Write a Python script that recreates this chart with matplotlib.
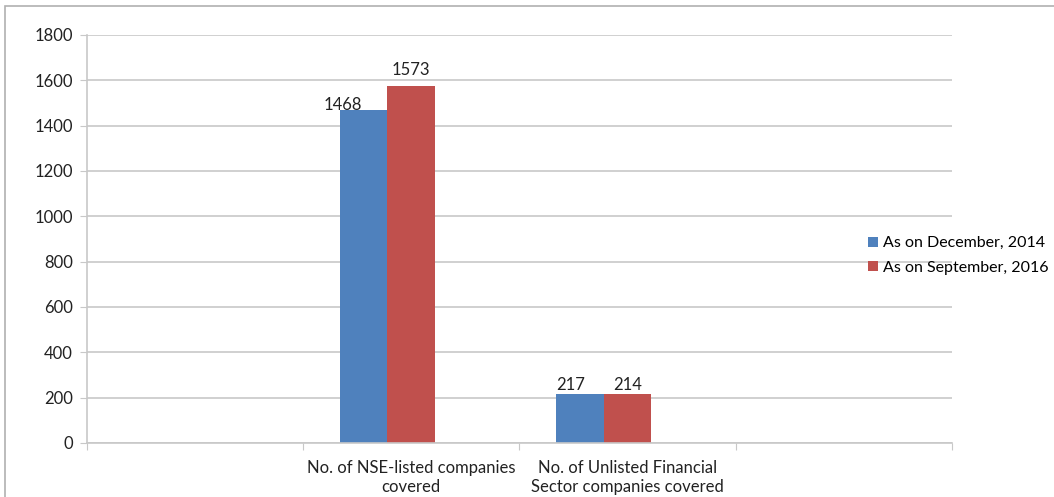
import numpy as np
import matplotlib.pyplot as plt
from matplotlib.patches import Rectangle

plt.rcParams['font.family'] = ['Lato', 'DejaVu Sans']

categories = ['', 'No. of NSE-listed companies\ncovered',
              'No. of Unlisted Financial\nSector companies covered', '']
dec_2014 = [np.nan, 1468, 217, np.nan]
sep_2016 = [np.nan, 1573, 214, np.nan]
series_names = ['As on December, 2014', 'As on September, 2016']

blue = '#4f81bd'
red = '#c0504d'
grid_c = '#c8c8c8'
txt_c = '#222222'
fs = 12

fig = plt.figure(figsize=(10.54, 4.97), dpi=100)
ax = fig.add_axes([0.0825, 0.1087, 0.8205, 0.8209])

x = np.arange(len(categories))
w = 0.22
b1 = ax.bar(x - w, dec_2014, w, color=blue, label=series_names[0])
b2 = ax.bar(x, sep_2016, w, color=red, label=series_names[1])

# data labels, nudged the way excel placed them
for xi, v in zip(x, dec_2014):
    if np.isnan(v):
        continue
    dx, dy = (-15, 3.6) if v > 1000 else (-6.5, 6.5)
    ax.annotate('%d' % v, (xi - w, v), xytext=(dx, dy), textcoords='offset points',
                ha='center', va='center', fontsize=fs, color=txt_c)
for xi, v in zip(x, sep_2016):
    if np.isnan(v):
        continue
    dy = 12 if v > 1000 else 7
    ax.annotate('%d' % v, (xi, v), xytext=(0, dy), textcoords='offset points',
                ha='center', va='center', fontsize=fs, color=txt_c)

ax.set_xlim(-0.5, len(categories) - 0.5)
ax.set_ylim(0, 1800)
ax.set_yticks(np.arange(0, 1801, 200))
ax.yaxis.grid(True, color=grid_c, linewidth=1.2)
ax.set_axisbelow(True)

ax.set_xticks(np.arange(-0.5, len(categories), 1.0))
ax.set_xticklabels([])
ax.set_xticks(x, minor=True)
ax.set_xticklabels(categories, minor=True, fontsize=fs, color=txt_c,
                   linespacing=1.25)
ax.tick_params(axis='x', which='minor', length=0, pad=12)
ax.tick_params(axis='x', which='major', length=5, color=grid_c, direction='out')
ax.tick_params(axis='y', length=5, color=grid_c, labelsize=fs,
               labelcolor=txt_c, pad=5)

for s in ['top', 'right']:
    ax.spines[s].set_visible(False)
for s in ['left', 'bottom']:
    ax.spines[s].set_color(grid_c)
    ax.spines[s].set_linewidth(1.2)

ax.legend(handles=[b1, b2], loc='center left', bbox_to_anchor=(0.816, 0.486),
          bbox_transform=fig.transFigure,
          frameon=False, fontsize=11.5, handlelength=0.6, handleheight=0.6,
          handletextpad=0.35, labelspacing=0.65, borderpad=0)

fig.patches.append(Rectangle((0.005, -0.01), 1.1, 0.997, transform=fig.transFigure,
                             fill=False, edgecolor='#b0b0b0', linewidth=1.2))

fig.savefig('out.png', dpi=100)
